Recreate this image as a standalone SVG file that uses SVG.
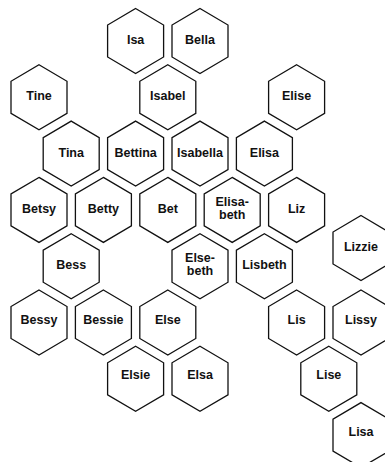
<svg xmlns="http://www.w3.org/2000/svg" xmlns:xlink="http://www.w3.org/1999/xlink" width="385" height="462" viewBox="0 0 385 462">
<style>
.h{fill:#fff;stroke:#111;stroke-width:1.3;stroke-linejoin:miter}
.t{font-family:"Liberation Sans",Arial,Helvetica,sans-serif;font-weight:bold;font-size:12.5px;fill:#111;text-anchor:middle}
</style>
<defs>
<polygon id="hex" points="0,-32.5 28,-16 28,16 0,32.5 -28,16 -28,-16"/>
</defs>
<rect width="385" height="462" fill="#fff"/>
<g id="nodes">
<g id="isa" transform="translate(135.6,41)"><use xlink:href="#hex" href="#hex" class="h"/><text class="t" y="3">Isa</text></g>
<g id="bella" transform="translate(200,41)"><use xlink:href="#hex" href="#hex" class="h"/><text class="t" y="3">Bella</text></g>
<g id="tine" transform="translate(39,97.3)"><use xlink:href="#hex" href="#hex" class="h"/><text class="t" y="3">Tine</text></g>
<g id="isabel" transform="translate(167.8,97.3)"><use xlink:href="#hex" href="#hex" class="h"/><text class="t" y="3">Isabel</text></g>
<g id="elise" transform="translate(296.6,97.3)"><use xlink:href="#hex" href="#hex" class="h"/><text class="t" y="3">Elise</text></g>
<g id="tina" transform="translate(71.2,153.6)"><use xlink:href="#hex" href="#hex" class="h"/><text class="t" y="3">Tina</text></g>
<g id="bettina" transform="translate(135.6,153.6)"><use xlink:href="#hex" href="#hex" class="h"/><text class="t" y="3">Bettina</text></g>
<g id="isabella" transform="translate(200,153.6)"><use xlink:href="#hex" href="#hex" class="h"/><text class="t" y="3">Isabella</text></g>
<g id="elisa" transform="translate(264.4,153.6)"><use xlink:href="#hex" href="#hex" class="h"/><text class="t" y="3">Elisa</text></g>
<g id="betsy" transform="translate(39,209.9)"><use xlink:href="#hex" href="#hex" class="h"/><text class="t" y="3">Betsy</text></g>
<g id="betty" transform="translate(103.4,209.9)"><use xlink:href="#hex" href="#hex" class="h"/><text class="t" y="3">Betty</text></g>
<g id="bet" transform="translate(167.8,209.9)"><use xlink:href="#hex" href="#hex" class="h"/><text class="t" y="3">Bet</text></g>
<g id="elisabeth" transform="translate(232.2,209.9)"><use xlink:href="#hex" href="#hex" class="h"/><text class="t" y="-4">Elisa-</text><text class="t" y="9">beth</text></g>
<g id="liz" transform="translate(296.6,209.9)"><use xlink:href="#hex" href="#hex" class="h"/><text class="t" y="3">Liz</text></g>
<g id="lizzie" transform="translate(361,248)"><use xlink:href="#hex" href="#hex" class="h"/><text class="t" y="3">Lizzie</text></g>
<g id="bess" transform="translate(71.2,266.2)"><use xlink:href="#hex" href="#hex" class="h"/><text class="t" y="3">Bess</text></g>
<g id="elsebeth" transform="translate(200,266.2)"><use xlink:href="#hex" href="#hex" class="h"/><text class="t" y="-4.5">Else-</text><text class="t" y="8.5">beth</text></g>
<g id="lisbeth" transform="translate(264.4,266.2)"><use xlink:href="#hex" href="#hex" class="h"/><text class="t" y="3">Lisbeth</text></g>
<g id="bessy" transform="translate(39,322.5)"><use xlink:href="#hex" href="#hex" class="h"/><text class="t" y="1.5">Bessy</text></g>
<g id="bessie" transform="translate(103.4,322.5)"><use xlink:href="#hex" href="#hex" class="h"/><text class="t" y="1.5">Bessie</text></g>
<g id="else" transform="translate(167.8,322.5)"><use xlink:href="#hex" href="#hex" class="h"/><text class="t" y="1.5">Else</text></g>
<g id="lis" transform="translate(296.6,322.5)"><use xlink:href="#hex" href="#hex" class="h"/><text class="t" y="1.5">Lis</text></g>
<g id="lissy" transform="translate(361,322.5)"><use xlink:href="#hex" href="#hex" class="h"/><text class="t" y="1.5">Lissy</text></g>
<g id="elsie" transform="translate(135.6,378.8)"><use xlink:href="#hex" href="#hex" class="h"/><text class="t" y="0.5">Elsie</text></g>
<g id="elsa" transform="translate(200,378.8)"><use xlink:href="#hex" href="#hex" class="h"/><text class="t" y="0.5">Elsa</text></g>
<g id="lise" transform="translate(328.8,378.8)"><use xlink:href="#hex" href="#hex" class="h"/><text class="t" y="0.5">Lise</text></g>
<g id="lisa" transform="translate(361,435.1)"><use xlink:href="#hex" href="#hex" class="h"/><text class="t" y="1">Lisa</text></g>
</g>
<g id="connectors"/>
</svg>
